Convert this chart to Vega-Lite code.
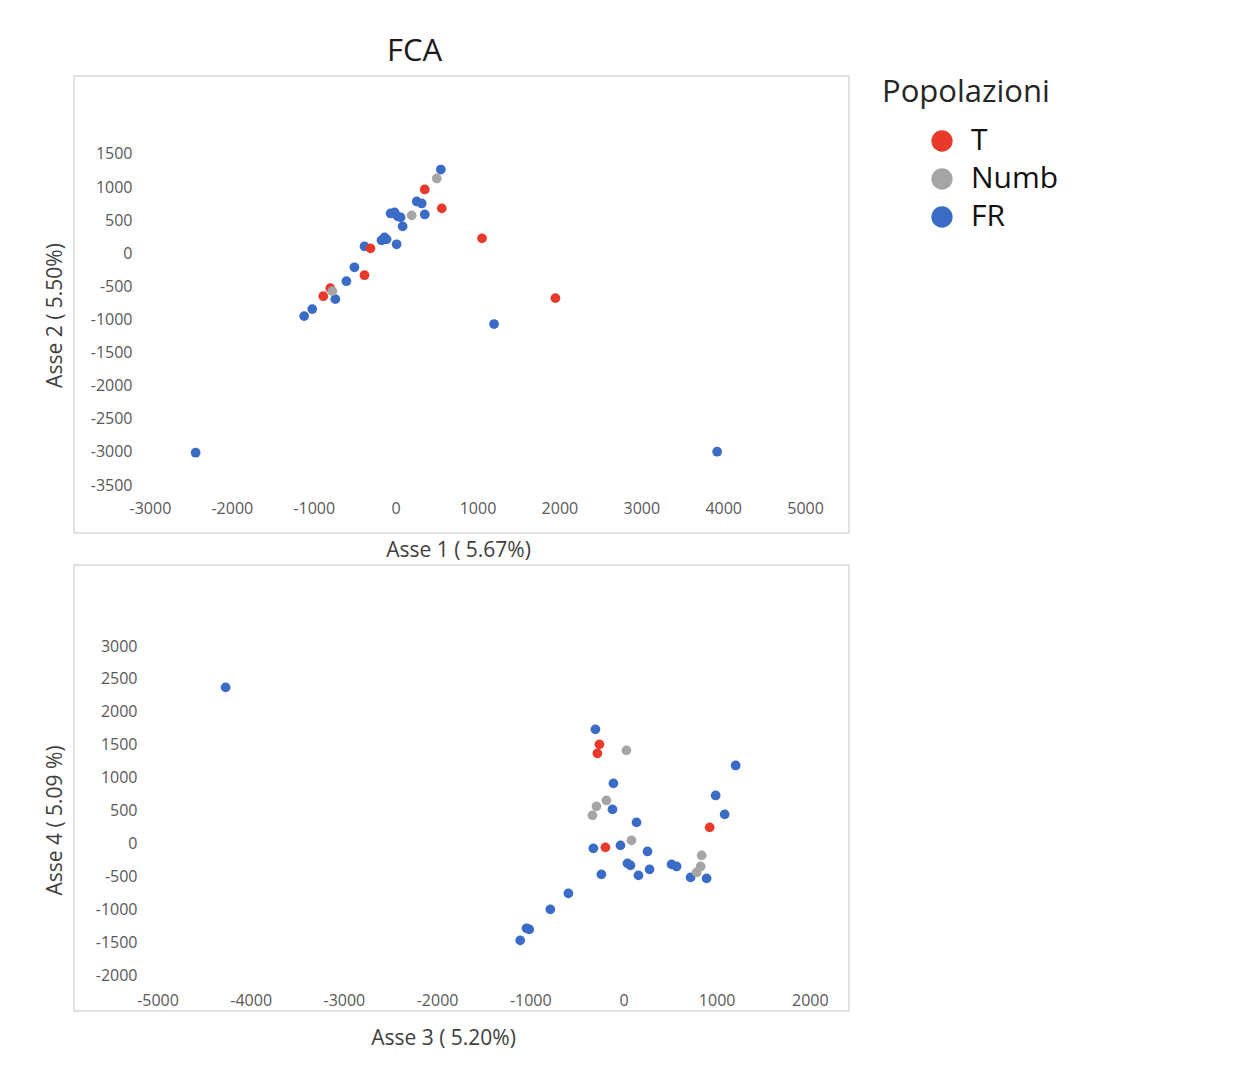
{
  "$schema": "https://vega.github.io/schema/vega-lite/v6.json",
  "padding": {"left": 43, "top": 35, "right": 0, "bottom": 0},
  "background": "white",
  "datasets": {
    "d12": [
      {"ax1": 552, "ax2": 1265, "pop": "FR"},
      {"ax1": 258, "ax2": 783, "pop": "FR"},
      {"ax1": 319, "ax2": 753, "pop": "FR"},
      {"ax1": 356, "ax2": 587, "pop": "FR"},
      {"ax1": -61, "ax2": 602, "pop": "FR"},
      {"ax1": -12, "ax2": 617, "pop": "FR"},
      {"ax1": 61, "ax2": 542, "pop": "FR"},
      {"ax1": 86, "ax2": 407, "pop": "FR"},
      {"ax1": 25, "ax2": 557, "pop": "FR"},
      {"ax1": -172, "ax2": 196, "pop": "FR"},
      {"ax1": -135, "ax2": 241, "pop": "FR"},
      {"ax1": -110, "ax2": 211, "pop": "FR"},
      {"ax1": -150, "ax2": 210, "pop": "FR"},
      {"ax1": 12, "ax2": 136, "pop": "FR"},
      {"ax1": -380, "ax2": 105, "pop": "FR"},
      {"ax1": -503, "ax2": -211, "pop": "FR"},
      {"ax1": -601, "ax2": -422, "pop": "FR"},
      {"ax1": -736, "ax2": -693, "pop": "FR"},
      {"ax1": -1018, "ax2": -843, "pop": "FR"},
      {"ax1": -1117, "ax2": -949, "pop": "FR"},
      {"ax1": 1202, "ax2": -1069, "pop": "FR"},
      {"ax1": -2442, "ax2": -3012, "pop": "FR"},
      {"ax1": 3926, "ax2": -2997, "pop": "FR"},
      {"ax1": 356, "ax2": 964, "pop": "T"},
      {"ax1": 564, "ax2": 678, "pop": "T"},
      {"ax1": 1055, "ax2": 226, "pop": "T"},
      {"ax1": -307, "ax2": 75, "pop": "T"},
      {"ax1": -380, "ax2": -331, "pop": "T"},
      {"ax1": -798, "ax2": -527, "pop": "T"},
      {"ax1": -883, "ax2": -648, "pop": "T"},
      {"ax1": 1951, "ax2": -678, "pop": "T"},
      {"ax1": 503, "ax2": 1130, "pop": "Numb"},
      {"ax1": 196, "ax2": 572, "pop": "Numb"},
      {"ax1": -773, "ax2": -572, "pop": "Numb"}
    ],
    "d34": [
      {"ax3": -301, "ax4": 1733, "pop": "FR"},
      {"ax3": 1204, "ax4": 1185, "pop": "FR"},
      {"ax3": -108, "ax4": 912, "pop": "FR"},
      {"ax3": 989, "ax4": 729, "pop": "FR"},
      {"ax3": -118, "ax4": 517, "pop": "FR"},
      {"ax3": 1086, "ax4": 441, "pop": "FR"},
      {"ax3": 140, "ax4": 319, "pop": "FR"},
      {"ax3": -323, "ax4": -76, "pop": "FR"},
      {"ax3": -32, "ax4": -30, "pop": "FR"},
      {"ax3": 258, "ax4": -122, "pop": "FR"},
      {"ax3": 43, "ax4": -304, "pop": "FR"},
      {"ax3": 75, "ax4": -334, "pop": "FR"},
      {"ax3": 516, "ax4": -319, "pop": "FR"},
      {"ax3": 570, "ax4": -350, "pop": "FR"},
      {"ax3": 720, "ax4": -517, "pop": "FR"},
      {"ax3": 892, "ax4": -532, "pop": "FR"},
      {"ax3": 280, "ax4": -395, "pop": "FR"},
      {"ax3": 161, "ax4": -486, "pop": "FR"},
      {"ax3": -237, "ax4": -471, "pop": "FR"},
      {"ax3": -591, "ax4": -760, "pop": "FR"},
      {"ax3": -785, "ax4": -1003, "pop": "FR"},
      {"ax3": -1011, "ax4": -1307, "pop": "FR"},
      {"ax3": -1040, "ax4": -1290, "pop": "FR"},
      {"ax3": -1108, "ax4": -1474, "pop": "FR"},
      {"ax3": -4269, "ax4": 2371, "pop": "FR"},
      {"ax3": -258, "ax4": 1505, "pop": "T"},
      {"ax3": -280, "ax4": 1368, "pop": "T"},
      {"ax3": 925, "ax4": 243, "pop": "T"},
      {"ax3": -194, "ax4": -61, "pop": "T"},
      {"ax3": 32, "ax4": 1413, "pop": "Numb"},
      {"ax3": -183, "ax4": 653, "pop": "Numb"},
      {"ax3": -290, "ax4": 562, "pop": "Numb"},
      {"ax3": -333, "ax4": 426, "pop": "Numb"},
      {"ax3": 86, "ax4": 46, "pop": "Numb"},
      {"ax3": 839, "ax4": -182, "pop": "Numb"},
      {"ax3": 828, "ax4": -350, "pop": "Numb"},
      {"ax3": 785, "ax4": -441, "pop": "Numb"}
    ]
  },
  "config": {
    "font": "Open Sans",
    "view": {"stroke": "#d9d9d9", "strokeWidth": 1.5},
    "axis": {
      "domain": false, "ticks": false, "grid": false,
      "labelFont": "Open Sans", "labelFontSize": 16, "labelColor": "#595959", "labelPadding": 2,
      "titleFont": "Open Sans", "titleFontSize": 21, "titleFontWeight": "normal", "titleColor": "#404040"
    }
  },
  "spacing": 3,
  "resolve": {"scale": {"color": "shared"}},
  "vconcat": [
    {
      "width": 775, "height": 457,
      "title": {"text": "FCA", "font": "Open Sans", "fontSize": 31, "fontWeight": "normal", "color": "#1a1a1a", "anchor": "middle", "dx": -47, "offset": -16, "baseline": "alphabetic"},
      "layer": [
        {
          "mark": {"type": "rule", "color": "#d9d9d9", "strokeWidth": 2},
          "encoding": {"x": {"datum": 0, "type": "quantitative"}, "y": {"datum": 1500, "type": "quantitative"}, "y2": {"datum": -3500}}
        },
        {
          "mark": {"type": "rule", "color": "#d9d9d9", "strokeWidth": 2},
          "encoding": {"y": {"datum": 0, "type": "quantitative"}, "x": {"datum": -3000, "type": "quantitative"}, "x2": {"datum": 5000}}
        },
        {
          "data": {"name": "d12"},
          "mark": {"type": "circle", "size": 95, "opacity": 1},
          "encoding": {
            "x": {"field": "ax1", "type": "quantitative",
              "scale": {"domain": [-3927, 5536], "nice": false, "zero": false},
              "axis": {"values": [-3000, -2000, -1000, 0, 1000, 2000, 3000, 4000, 5000], "labelExpr": "'' + datum.value", "offset": -35,
                "title": "Asse 1 ( 5.67%)", "titleX": 384, "titleY": 52, "titleAlign": "center", "titleBaseline": "middle", "titleAngle": 0}},
            "y": {"field": "ax2", "type": "quantitative",
              "scale": {"domain": [-4225, 2678], "nice": false, "zero": false},
              "axis": {"values": [1500, 1000, 500, 0, -500, -1000, -1500, -2000, -2500, -3000, -3500], "labelExpr": "'' + datum.value", "offset": -60,
                "title": "Asse 2 ( 5.50%)", "titleX": -79, "titleY": 239, "titleAlign": "center", "titleBaseline": "middle", "titleAngle": -90}},
            "color": {"field": "pop", "type": "nominal",
              "scale": {"domain": ["T", "Numb", "FR"], "range": ["#E8392B", "#A5A5A5", "#3A6BC7"]},
              "legend": {"orient": "none", "legendX": 808, "legendY": 2, "title": "Popolazioni",
                "titleFont": "Open Sans", "titleFontSize": 31, "titleFontWeight": "normal", "titleColor": "#262626", "titlePadding": 17,
                "labelFont": "Open Sans", "labelFontSize": 30, "labelColor": "#111111",
                "symbolType": "circle", "symbolSize": 452, "symbolOffset": 45, "labelOffset": 14, "rowPadding": 8, "symbolStrokeWidth": 0}}
          }
        }
      ]
    },
    {
      "width": 775, "height": 446,
      "layer": [
        {
          "mark": {"type": "rule", "color": "#d9d9d9", "strokeWidth": 2},
          "encoding": {"x": {"datum": 0, "type": "quantitative"}, "y": {"datum": 3000, "type": "quantitative"}, "y2": {"datum": -2000}}
        },
        {
          "mark": {"type": "rule", "color": "#d9d9d9", "strokeWidth": 2},
          "encoding": {"y": {"datum": 0, "type": "quantitative"}, "x": {"datum": -5000, "type": "quantitative"}, "x2": {"datum": 2000}}
        },
        {
          "data": {"name": "d34"},
          "mark": {"type": "circle", "size": 95, "opacity": 1},
          "encoding": {
            "x": {"field": "ax3", "type": "quantitative",
              "scale": {"domain": [-5896, 2420], "nice": false, "zero": false},
              "axis": {"values": [-5000, -4000, -3000, -2000, -1000, 0, 1000, 2000], "labelExpr": "'' + datum.value", "offset": -21,
                "title": "Asse 3 ( 5.20%)", "titleX": 369, "titleY": 48, "titleAlign": "center", "titleBaseline": "middle", "titleAngle": 0}},
            "y": {"field": "ax4", "type": "quantitative",
              "scale": {"domain": [-2547, 4231], "nice": false, "zero": false},
              "axis": {"values": [3000, 2500, 2000, 1500, 1000, 500, 0, -500, -1000, -1500, -2000], "labelExpr": "'' + datum.value", "offset": -65,
                "title": "Asse 4 ( 5.09 %)", "titleX": -84, "titleY": 255, "titleAlign": "center", "titleBaseline": "middle", "titleAngle": -90}},
            "color": {"field": "pop", "type": "nominal"}
          }
        }
      ]
    }
  ]
}
